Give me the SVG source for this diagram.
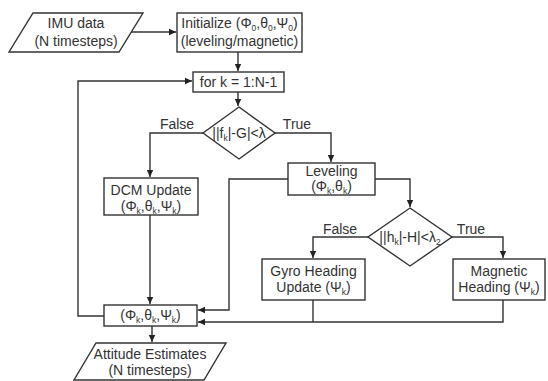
<svg xmlns="http://www.w3.org/2000/svg" width="548" height="381" viewBox="0 0 548 381">
<style>
.s{fill:#fff;stroke:#333;stroke-width:1.4}
.t{font-family:"Liberation Sans",Arial,sans-serif;font-size:14px;fill:#333;text-anchor:middle}
.sub{font-size:8.5px}
.c{fill:none;stroke:#333;stroke-width:1.4}
</style>
<defs>
<marker id="a" markerUnits="userSpaceOnUse" markerWidth="8" markerHeight="8" refX="7" refY="4" orient="auto">
<path d="M0,0.8 L7,4 L0,7.2 z" fill="#222"/>
</marker>
</defs>
<rect width="548" height="381" fill="#fff"/>
<g id="connectors">
<path class="c" d="M131,32 H176" marker-end="url(#a)"/>
<path class="c" d="M238,52 V71" marker-end="url(#a)"/>
<path class="c" d="M104,316 H78 V81 H192" marker-end="url(#a)"/>
<path class="c" d="M238,92 V106" marker-end="url(#a)"/>
<path class="c" d="M203,133 H150 V177" marker-end="url(#a)"/>
<path class="c" d="M275,133 H331 V162" marker-end="url(#a)"/>
<path class="c" d="M150,215 V304" marker-end="url(#a)"/>
<path class="c" d="M288,179 H229 V310 H198" marker-end="url(#a)"/>
<path class="c" d="M375,179 H410 V207" marker-end="url(#a)"/>
<path class="c" d="M368,237 H313 V258" marker-end="url(#a)"/>
<path class="c" d="M452,237 H503 V258" marker-end="url(#a)"/>
<path class="c" d="M313,300 V322"/>
<path class="c" d="M503,300 V322 H198" marker-end="url(#a)"/>
<path class="c" d="M152,326 V342" marker-end="url(#a)"/>
<text class="t" x="177" y="129">False</text>
<text class="t" x="297" y="129">True</text>
<text class="t" x="340" y="234">False</text>
<text class="t" x="471" y="234">True</text>
</g>
<g id="imu">
<polygon class="s" points="33,13 143,13 119,52 9,52"/>
<text class="t" x="76" y="28">IMU data</text>
<text class="t" x="76" y="46">(N timesteps)</text>
</g>
<g id="init">
<rect class="s" x="177" y="13" width="125" height="39"/>
<text class="t" x="239.500" y="28">Initialize (Φ<tspan class="sub" dy="3">0</tspan><tspan dy="-3">,θ</tspan><tspan class="sub" dy="3">0</tspan><tspan dy="-3">,Ψ</tspan><tspan class="sub" dy="3">0</tspan><tspan dy="-3">)</tspan></text>
<text class="t" x="239.500" y="46">(leveling/magnetic)</text>
</g>
<g id="for">
<rect class="s" x="193" y="72" width="91" height="20"/>
<text class="t" x="238.500" y="87">for k = 1:N-1</text>
</g>
<g id="dec1">
<polygon class="s" points="239,107 275,133 239,159 203,133"/>
<text class="t" x="239" y="138">||f<tspan class="sub" dy="3">k</tspan><tspan dy="-3">|-G|&lt;λ</tspan></text>
</g>
<g id="dcm">
<rect class="s" x="104" y="178" width="94" height="37"/>
<text class="t" x="151" y="195">DCM Update</text>
<text class="t" x="151" y="211">(Φ<tspan class="sub" dy="3">k</tspan><tspan dy="-3">,θ</tspan><tspan class="sub" dy="3">k</tspan><tspan dy="-3">,Ψ</tspan><tspan class="sub" dy="3">k</tspan><tspan dy="-3">)</tspan></text>
</g>
<g id="leveling">
<rect class="s" x="288" y="163" width="87" height="32"/>
<text class="t" x="331.500" y="176">Leveling</text>
<text class="t" x="331.500" y="191">(Φ<tspan class="sub" dy="3">k</tspan><tspan dy="-3">,θ</tspan><tspan class="sub" dy="3">k</tspan><tspan dy="-3">)</tspan></text>
</g>
<g id="dec2">
<polygon class="s" points="410,208 452,237 410,266 368,237"/>
<text class="t" x="410" y="242">||h<tspan class="sub" dy="3">k</tspan><tspan dy="-3">|-H|&lt;λ</tspan><tspan class="sub" dy="3">2</tspan></text>
</g>
<g id="gyro">
<rect class="s" x="262" y="259" width="103" height="41"/>
<text class="t" x="313.500" y="276">Gyro Heading</text>
<text class="t" x="313.500" y="292">Update (Ψ<tspan class="sub" dy="3">k</tspan><tspan dy="-3">)</tspan></text>
</g>
<g id="mag">
<rect class="s" x="453" y="259" width="92" height="41"/>
<text class="t" x="499" y="276">Magnetic</text>
<text class="t" x="499" y="292">Heading (Ψ<tspan class="sub" dy="3">k</tspan><tspan dy="-3">)</tspan></text>
</g>
<g id="state">
<rect class="s" x="104" y="305" width="93" height="21"/>
<text class="t" x="150.500" y="320">(Φ<tspan class="sub" dy="3">k</tspan><tspan dy="-3">,θ</tspan><tspan class="sub" dy="3">k</tspan><tspan dy="-3">,Ψ</tspan><tspan class="sub" dy="3">k</tspan><tspan dy="-3">)</tspan></text>
</g>
<g id="attitude">
<polygon class="s" points="96,343 226,343 204,380 74,380"/>
<text class="t" x="150" y="359">Attitude Estimates</text>
<text class="t" x="150" y="375">(N timesteps)</text>
</g>
</svg>
